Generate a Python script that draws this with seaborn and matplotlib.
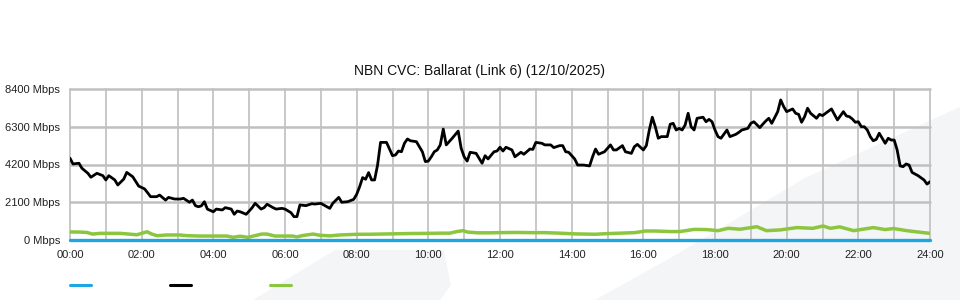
import matplotlib
matplotlib.use("Agg")
import matplotlib.pyplot as plt
from matplotlib.patches import Polygon
from matplotlib.lines import Line2D
import seaborn as sns
import pandas as pd

# ---------------- data (minutes since midnight, Mbps) ----------------
black_min = [0, 5, 15, 20, 30, 35, 45, 55, 60, 65, 75, 80, 90, 95, 105, 115, 125, 135, 145, 150,
             160, 165, 175, 185, 190, 200, 205, 210, 215, 220, 225, 230, 240, 245, 255, 260, 270,
             275, 280, 285, 295, 300, 305, 310, 320, 325, 330, 340, 345, 355, 360, 370, 375, 380,
             385, 395, 405, 410, 420, 430, 435, 440, 450, 455, 465, 475, 480, 485, 490, 495, 500,
             505, 510, 515, 520, 530, 540, 545, 550, 555, 560, 565, 570, 580, 590, 595, 600, 605,
             610, 615, 620, 625, 630, 640, 650, 655, 660, 665, 670, 680, 685, 690, 695, 700, 710,
             715, 720, 725, 730, 740, 745, 755, 760, 770, 775, 780, 790, 795, 805, 810, 820, 825,
             830, 835, 845, 850, 860, 870, 875, 880, 885, 895, 900, 905, 910, 915, 925, 930, 940,
             945, 950, 960, 965, 970, 975, 980, 985, 990, 1000, 1005, 1010, 1015, 1020, 1025, 1030,
             1035, 1040, 1045, 1050, 1060, 1065, 1070, 1075, 1080, 1085, 1090, 1100, 1105, 1115,
             1120, 1125, 1135, 1140, 1145, 1155, 1160, 1165, 1170, 1175, 1185, 1190, 1195, 1200,
             1210, 1215, 1220, 1225, 1230, 1235, 1240, 1250, 1255, 1260, 1275, 1280, 1285, 1295,
             1300, 1305, 1310, 1315, 1320, 1325, 1330, 1335, 1340, 1345, 1350, 1355, 1365, 1370,
             1375, 1380, 1385, 1390, 1395, 1400, 1405, 1410, 1420, 1430, 1435, 1440]
black_val = [4550, 4230, 4270, 3990, 3710, 3490, 3710, 3580, 3340, 3580, 3340, 3060, 3390, 3760, 3520,
             3000, 2840, 2410, 2410, 2500, 2220, 2370, 2280, 2280, 2320, 2100, 2220, 1910, 1850, 1900,
             2130, 1720, 1570, 1720, 1670, 1800, 1720, 1430, 1610, 1570, 1430, 1610, 1800, 2040, 1720,
             1800, 1990, 1800, 1720, 1760, 1720, 1520, 1300, 1300, 1950, 1910, 2020, 2000, 2040, 1850,
             1760, 2040, 2370, 2100, 2130, 2260, 2540, 2970, 3470, 3380, 3750, 3340, 3340, 4170, 5430,
             5430, 4690, 4730, 4950, 4910, 5380, 5620, 5520, 5470, 4910, 4360, 4390, 4630, 4910, 5010,
             5290, 6170, 5290, 5660, 6060, 5100, 4630, 4390, 4880, 4820, 4540, 4270, 4690, 4510, 4910,
             4950, 5160, 4950, 5160, 5010, 4630, 4880, 4770, 5060, 5040, 5430, 5380, 5290, 5290, 5140,
             5250, 5250, 4910, 4880, 4510, 4170, 4170, 4120, 4630, 5060, 4770, 4910, 5100, 5290, 5010,
             5010, 5250, 4910, 4820, 5190, 5320, 5010, 5250, 6120, 6830, 6300, 5660, 5750, 5750, 6440,
             6490, 6120, 6210, 6120, 6400, 7050, 6300, 6120, 6770, 6830, 6580, 6710, 6580, 6120, 5750,
             5660, 6120, 5750, 5880, 5990, 6120, 6210, 6490, 6580, 6250, 6440, 6620, 6770, 6490, 7140,
             7790, 7420, 7140, 7290, 7050, 6990, 6550, 6860, 7330, 7050, 6770, 6990, 6920, 7290, 6990,
             6680, 7140, 6900, 6860, 6730, 6550, 6580, 6300, 6300, 6120, 5750, 5520, 5600, 5940, 5380,
             5660, 5560, 5560, 5010, 4120, 4080, 4230, 4170, 3760, 3580, 3340, 3110, 3240]

green_min = [0, 17, 28, 38, 50, 67, 84, 95, 112, 129, 137, 146, 162, 184, 196, 218, 243, 263, 273,
             285, 298, 311, 321, 330, 343, 360, 373, 380, 390, 407, 419, 435, 452, 480, 502, 536,
             569, 600, 620, 636, 648, 658, 666, 683, 703, 720, 745, 770, 795, 820, 846, 862, 879,
             896, 921, 946, 963, 980, 1005, 1021, 1045, 1066, 1085, 1102, 1122, 1150, 1166, 1189,
             1217, 1244, 1261, 1273, 1289, 1312, 1345, 1365, 1379, 1401, 1429, 1440]
green_val = [450, 440, 420, 330, 370, 370, 370, 340, 290, 460, 330, 240, 280, 280, 240, 220, 220, 220,
             150, 210, 150, 250, 330, 330, 220, 220, 220, 170, 250, 330, 260, 230, 280, 317, 320, 340,
             360, 370, 380, 380, 470, 520, 440, 400, 400, 410, 420, 410, 410, 380, 340, 330, 320, 350,
             380, 410, 500, 500, 470, 470, 590, 580, 520, 650, 600, 740, 520, 560, 690, 650, 780, 650,
             730, 520, 690, 580, 640, 520, 410, 370]

blue_min = [0, 1440]
blue_val = [0, 0]

tick_min = list(range(0, 1441, 120))
tick_labels = [f"{m // 60:02d}:00" for m in tick_min]
y_ticks = [0, 2100, 4200, 6300, 8400]
y_labels = [f"{v} Mbps" for v in y_ticks]

title = "NBN CVC: Ballarat (Link 6) (12/10/2025)"

BLUE = "#1ea5e3"
BLACK = "#000000"
GREEN = "#8cc63e"

# ---------------- figure ----------------
sns.set_theme(style="white")
plt.rcParams["font.family"] = ["Liberation Sans", "DejaVu Sans"]

W, H = 960, 300
fig = plt.figure(figsize=(9.6, 3.0), dpi=100)
fig.patch.set_facecolor("white")

def fp(pts):
    return [(x / W, 1 - y / H) for x, y in pts]

wm = "#f4f5f7"
for pts in ([(595, 300), (667, 260), (805, 178), (938, 117), (960, 107), (960, 300)],
            [(253, 300), (335, 250), (444, 250), (446, 262), (451, 285), (440, 300)]):
    fig.add_artist(Polygon(fp(pts), closed=True, transform=fig.transFigure,
                           facecolor=wm, edgecolor="none", zorder=-5))

ax = fig.add_axes([70 / W, 1 - 240 / H, 860 / W, 151 / H])
ax.set_facecolor("none")
ax.set_zorder(1)

df_black = pd.DataFrame({"t": black_min, "v": black_val})
df_green = pd.DataFrame({"t": green_min, "v": green_val})
df_blue = pd.DataFrame({"t": blue_min, "v": blue_val})

sns.lineplot(data=df_green, x="t", y="v", ax=ax, color=GREEN, linewidth=2.5, zorder=3)
sns.lineplot(data=df_black, x="t", y="v", ax=ax, color=BLACK, linewidth=2.0, zorder=4)
sns.lineplot(data=df_blue, x="t", y="v", ax=ax, color=BLUE, linewidth=2.4, zorder=5, clip_on=False)

ax.set_xlim(0, 1440)
ax.set_ylim(0, 8400)
ax.set_xticks(tick_min)
ax.set_xticklabels(tick_labels)
ax.set_yticks(y_ticks)
ax.set_yticklabels(y_labels)
ax.set_xlabel("")
ax.set_ylabel("")

ax.grid(False)
for m in range(0, 1441, 60):
    ax.axvline(m, color="#c4c4c4", linewidth=1.3, zorder=1, clip_on=False)
for v in y_ticks:
    ax.axhline(v, color="#c0c0c0", linewidth=1.8, zorder=1, clip_on=False)

for s in ax.spines.values():
    s.set_visible(False)
ax.tick_params(axis="both", which="both", length=0, labelsize=8, colors="#222222")
ax.tick_params(axis="x", pad=7)
ax.tick_params(axis="y", pad=7)

fig.text(0.5, 1 - 71 / H, title, ha="center", va="center", fontsize=10, color="#111111")

# legend swatches (labels are blank in the reference)
for x0, c in [(70, BLUE), (170, BLACK), (270, GREEN)]:
    fig.add_artist(Line2D([x0 / W, (x0 + 21) / W], [1 - 285 / H, 1 - 285 / H],
                          transform=fig.transFigure, color=c, linewidth=2.2, zorder=2))

fig.savefig("out.png", dpi=100, facecolor="white")
